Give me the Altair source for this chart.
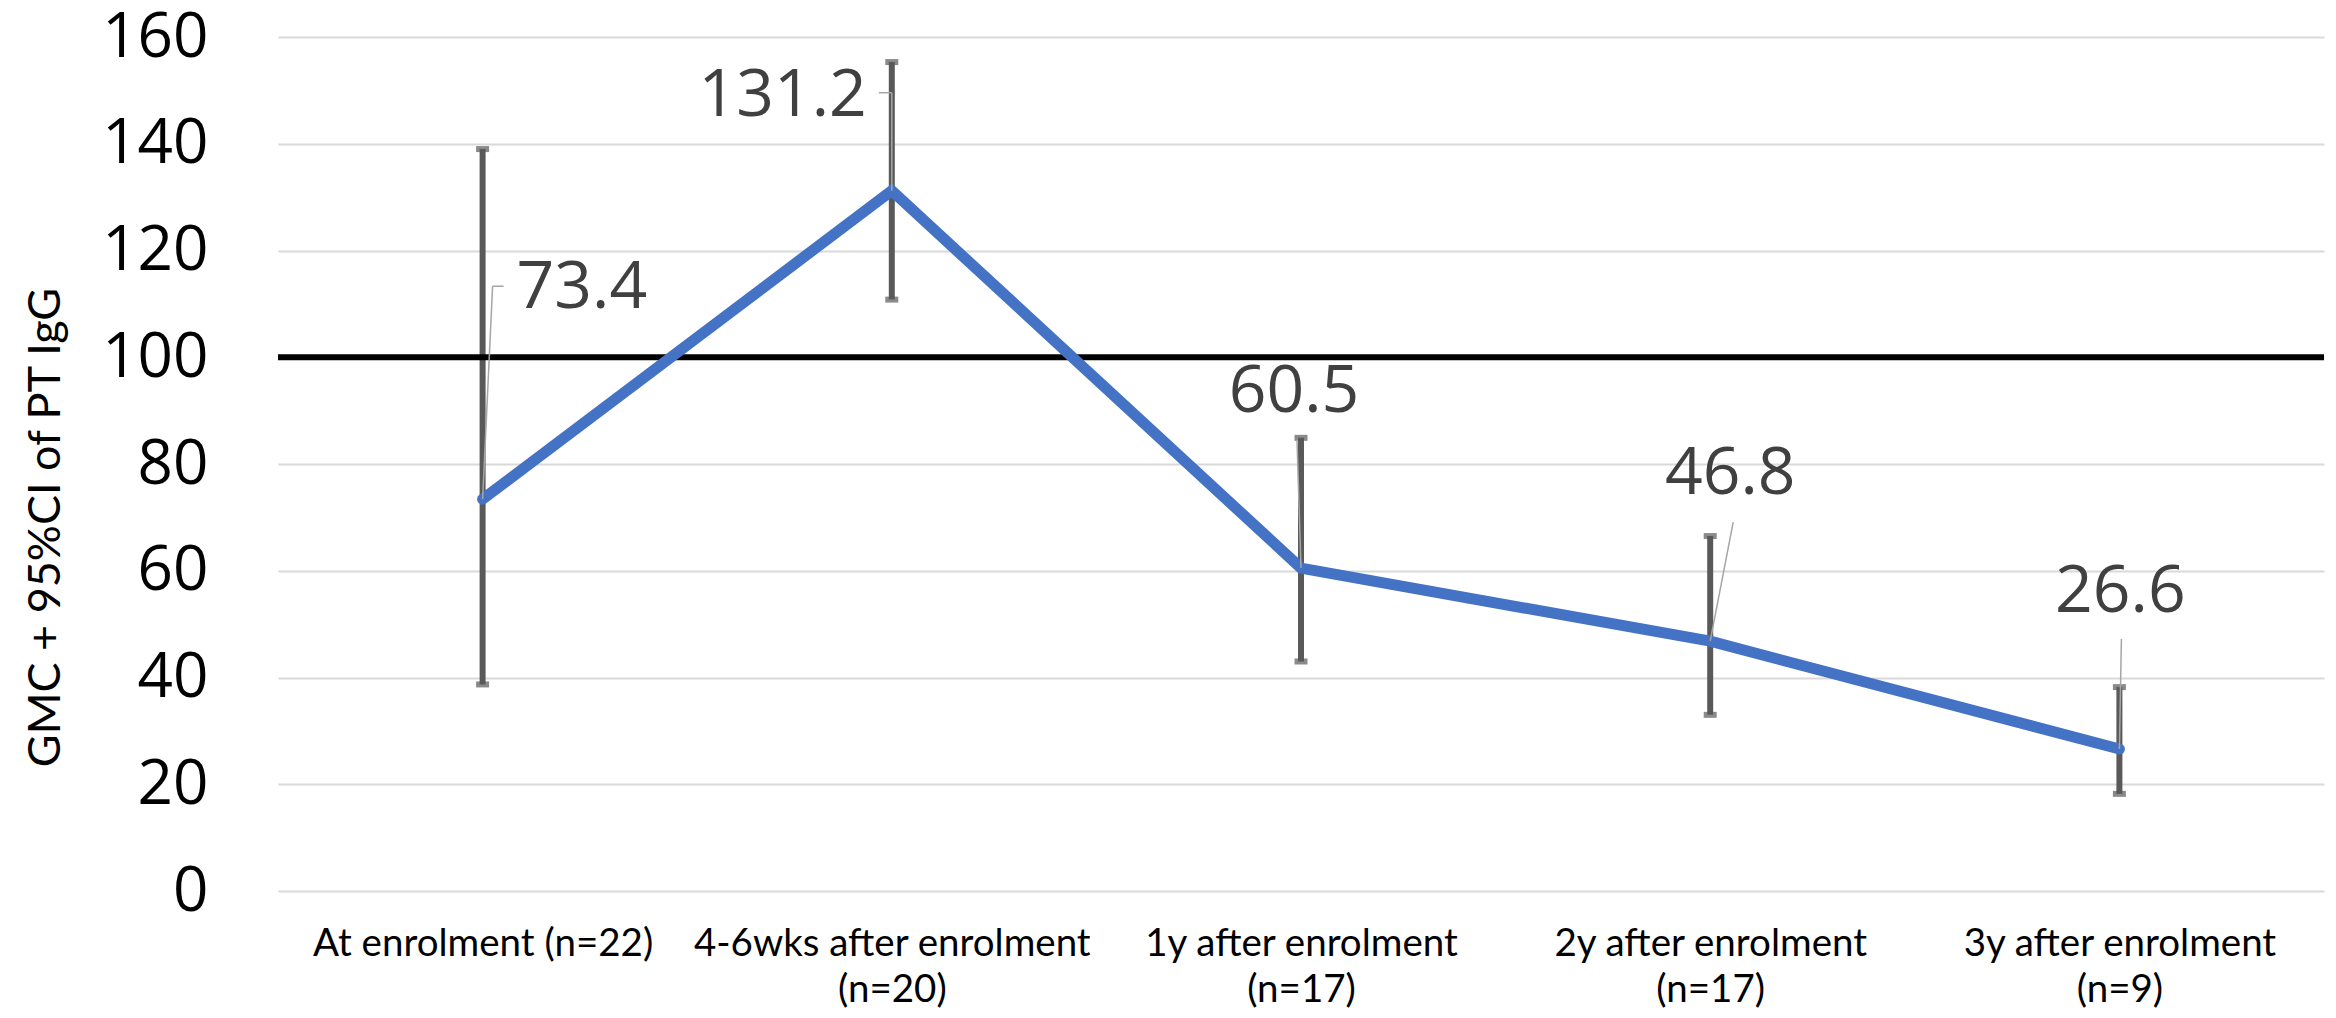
import altair as alt
import pandas as pd

# Time points (first axis line) and group sizes (second axis line)
timepoints = [
    "At enrolment (n=22)",
    "4-6wks after enrolment",
    "1y after enrolment",
    "2y after enrolment",
    "3y after enrolment",
]
group_sizes = ["", "(n=20)", "(n=17)", "(n=17)", "(n=9)"]

# Geometric mean concentration with 95% confidence interval
gmc = [73.4, 131.2, 60.5, 46.8, 26.6]
ci_low = [38.7, 110.8, 43.0, 33.0, 18.2]
ci_high = [139.0, 155.3, 84.9, 66.5, 38.2]

threshold = 100
y_ticks = [0, 20, 40, 60, 80, 100, 120, 140, 160]

df = pd.DataFrame({
    "idx": list(range(len(gmc))),
    "gmc": gmc,
    "lo": ci_low,
    "hi": ci_high,
})

# multi-line tick labels for the time axis
label_lines = []
for first, second in zip(timepoints, group_sizes):
    lines = [first] + ([second] if second else [])
    label_lines.append("[" + ",".join("'" + s + "'" for s in lines) + "]")
label_expr = "[" + ",".join(label_lines) + "][round(datum.value)]"

x_enc = alt.X(
    "idx:Q",
    scale=alt.Scale(domain=[-0.5, len(gmc) - 0.5], nice=False, zero=False),
    axis=alt.Axis(
        values=list(range(len(gmc))),
        labelExpr=label_expr,
        grid=False, ticks=False, domain=False,
        labelFont="Lato", labelFontSize=38.5, labelColor="#000000",
        labelBaseline="top", labelPadding=34, labelLineHeight=46,
        labelAlign="center", labelLimit=0, title=None,
    ),
)
y_scale = alt.Scale(domain=[0, 160], nice=False)
y_enc = alt.Y(
    "gmc:Q",
    scale=y_scale,
    axis=alt.Axis(
        values=y_ticks,
        grid=True, gridColor="#d9d9d9", gridWidth=2,
        ticks=False, domain=False,
        labelFont="Open Sans", labelFontSize=62, labelColor="#000000",
        labelPadding=70,
        title="GMC + 95%CI of PT IgG",
        titleFont="Lato", titleFontSize=45, titleFontWeight="normal",
        titleColor="#000000", titleAngle=270,
        titleX=-233, titleY=490, titleAlign="center", titleBaseline="middle",
    ),
)

base = alt.Chart(df)

err_color = "#595959"
error_bars = base.mark_rule(color=err_color, strokeWidth=6).encode(
    x="idx:Q", y=alt.Y("lo:Q", scale=y_scale), y2="hi:Q"
)
caps_low = base.mark_tick(color=err_color, orient="horizontal", size=13, thickness=6).encode(
    x="idx:Q", y=alt.Y("lo:Q", scale=y_scale)
)
caps_high = base.mark_tick(color=err_color, orient="horizontal", size=13, thickness=6).encode(
    x="idx:Q", y=alt.Y("hi:Q", scale=y_scale)
)

ref_line = alt.Chart(pd.DataFrame({"t": [threshold]})).mark_rule(
    color="#000000", strokeWidth=6
).encode(y=alt.Y("t:Q", scale=y_scale))

gmc_line = base.mark_line(
    color="#4472C4", strokeWidth=11, strokeCap="round", strokeJoin="miter"
).encode(x=x_enc, y=y_enc)

# label placement per point: (dx, dy, align, leader end dx, leader end dy, hook length)
label_style = [
    (34, -211, "left", 10, -213, 11),
    (-25, -95, "right", 0, -98, -13),
    (-7, -176, "center", -4, -128, 0),
    (20, -167, "center", 23, -119, 0),
    (1, -157, "center", 2, -110, 0),
]

layers = [error_bars, caps_low, caps_high, ref_line, gmc_line]
leader_color = "#a6a6a6"
for i, (dx, dy, align, lx, ly, hook) in enumerate(label_style):
    one = alt.Chart(df.iloc[[i]])
    leader = one.mark_rule(
        color=leader_color, strokeWidth=1.5, x2Offset=lx, y2Offset=ly
    ).encode(
        x="idx:Q", x2="idx:Q", y=alt.Y("gmc:Q", scale=y_scale), y2="gmc:Q"
    )
    layers.append(leader)
    if hook:
        hook_mark = one.mark_rule(
            color=leader_color, strokeWidth=1.5,
            xOffset=lx, x2Offset=lx + hook, yOffset=ly, y2Offset=ly,
        ).encode(
            x="idx:Q", x2="idx:Q", y=alt.Y("gmc:Q", scale=y_scale), y2="gmc:Q"
        )
        layers.append(hook_mark)
    text = one.mark_text(
        font="Open Sans", fontSize=66, color="#404040",
        align=align, baseline="middle", dx=dx, dy=dy,
    ).encode(
        x="idx:Q", y=alt.Y("gmc:Q", scale=y_scale),
        text=alt.Text("gmc:Q", format=".1f"),
    )
    layers.append(text)

chart = alt.layer(*layers).properties(
    width=2046,
    height=854,
    autosize=alt.AutoSizeParams(type="none"),
    padding={"left": 278, "top": 37, "right": 12, "bottom": 127},
    background="#ffffff",
).configure_view(stroke=None)

chart.save("out.html", embed_options={"renderer": "svg", "actions": False})
